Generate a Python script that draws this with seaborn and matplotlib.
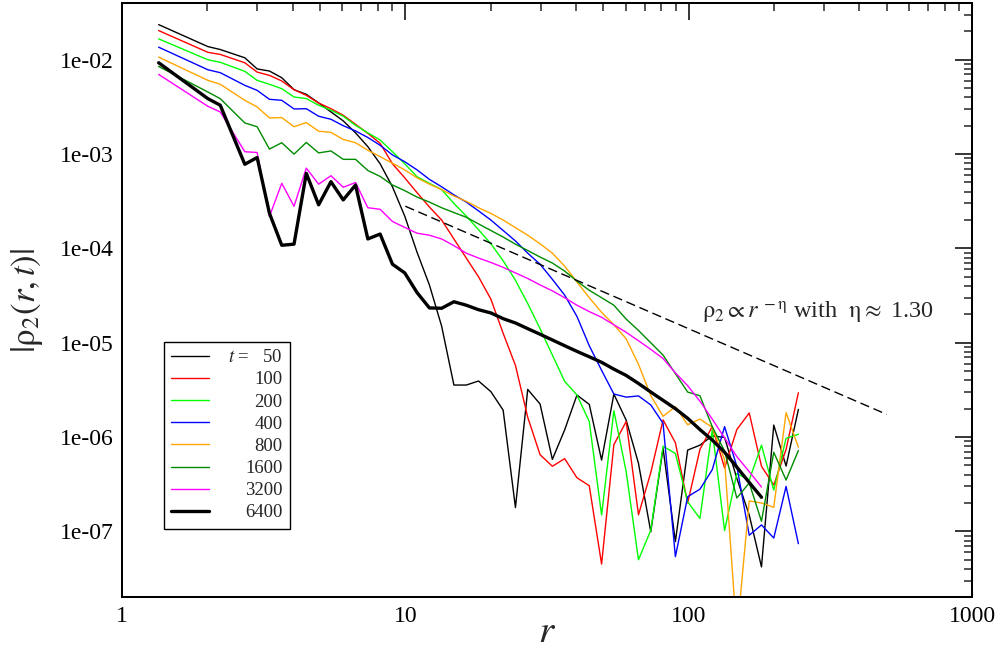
import numpy as np
import pandas as pd
import matplotlib
matplotlib.use("Agg")
import matplotlib.pyplot as plt
import seaborn as sns
from matplotlib.ticker import FixedLocator, FixedFormatter, LogLocator, NullFormatter

# ---------------- data ----------------
r = [1.347, 2.010, 2.222, 2.713, 2.999, 3.314, 3.663, 4.047, 4.472, 4.943,
     5.463, 6.037, 6.672, 7.373, 8.147, 9.006, 9.952, 11.00, 12.16, 13.43,
     14.84, 16.41, 18.13, 20.04, 22.14, 24.47, 27.04, 29.89, 33.03, 36.50,
     40.34, 44.58, 49.28, 54.45, 60.18, 66.51, 73.50, 81.22, 89.77, 99.19,
     109.6, 121.1, 133.9, 147.9, 163.6, 180.7, 199.7, 220.7, 243.9]

times = [50, 100, 200, 400, 800, 1600, 3200, 6400]

rho_t50 = [0.0236, 0.0138, 0.01285, 0.0105, 0.0080, 0.0076, 0.00645, 0.00482, 0.0043, 0.00349,
           0.0028, 0.00225, 0.00168, 0.0012, 0.00079, 0.00045, 2.2e-4, 9.1e-5, 4.1e-5, 1.5e-5,
           3.56e-6, 3.56e-6, 3.93e-6, 3.03e-6, 1.93e-6, 1.79e-7, 3.2e-6, 2.24e-6, 5.8e-7, 1.19e-6,
           2.79e-6, 2.22e-6, 5.7e-7, 2.85e-6, 1.51e-6, 5.26e-7, 9.9e-8, 7.6e-7, 7.8e-8, 7.28e-7,
           8.2e-7, 1.03e-6, 9.9e-7, 3.65e-7, 1.49e-7, 4.2e-8, 1.34e-6, 4.93e-7, 1.96e-6]
rho_t100 = [0.0204, 0.0120, 0.0114, 0.0093, 0.0074, 0.00684, 0.00596, 0.00482, 0.0042, 0.00348,
            0.00303, 0.00258, 0.00207, 0.00166, 0.0013, 7.9e-4, 5.6e-4, 3.9e-4, 2.75e-4, 2.0e-4,
            1.26e-4, 7.9e-5, 5.0e-5, 2.9e-5, 1.26e-5, 5.75e-6, 1.62e-6, 6.5e-7, 4.9e-7, 5.9e-7,
            3.7e-7, 3.05e-7, 4.5e-8, 8.3e-7, 1.46e-6, 1.5e-7, 4.2e-7, 1.52e-6, 8.7e-7, 2.0e-7,
            7.4e-7, 1.29e-6, 4.7e-7, 1.2e-6, 1.8e-6, 4.9e-7, 3.1e-7, 7.4e-7, 2.95e-6]
rho_t200 = [0.01667, 0.0100, 0.0094, 0.00754, 0.00605, 0.0055, 0.00494, 0.00403, 0.00388, 0.0033,
            0.00292, 0.00252, 0.00202, 0.00168, 0.00141, 0.00106, 7.9e-4, 5.75e-4, 4.9e-4, 4.2e-4,
            3.0e-4, 2.2e-4, 1.58e-4, 1.12e-4, 7.4e-5, 4.6e-5, 2.6e-5, 1.41e-5, 7.4e-6, 3.9e-6,
            2.79e-6, 1.46e-6, 1.49e-7, 1.9e-6, 4.3e-7, 5.0e-8, 1.03e-7, 8.0e-7, 6.7e-7, 2.06e-7,
            1.37e-7, 1.19e-6, 1.02e-7, 4.1e-7, 3.5e-7, 8.2e-7, 2.74e-7, 9.7e-7, 1.07e-6]
rho_t400 = [0.0136, 0.00784, 0.0073, 0.00536, 0.00474, 0.00381, 0.00372, 0.00301, 0.00303, 0.00252,
            0.00234, 0.0020, 0.00176, 0.0015, 0.00124, 9.8e-4, 8.3e-4, 6.8e-4, 5.4e-4, 4.5e-4,
            3.7e-4, 3.1e-4, 2.5e-4, 2.0e-4, 1.55e-4, 1.2e-4, 8.9e-5, 6.8e-5, 4.7e-5, 3.2e-5,
            1.9e-5, 9.3e-6, 5.1e-6, 2.86e-6, 2.65e-6, 2.73e-6, 2.19e-6, 1.4e-6, 5.4e-8, 2.33e-7,
            2.8e-7, 4.5e-7, 1.29e-6, 4.9e-7, 9.1e-8, 1.17e-7, 8.5e-8, 3.0e-7, 7.4e-8]
rho_t800 = [0.01067, 0.00605, 0.0055, 0.00372, 0.00316, 0.00242, 0.00244, 0.00195, 0.00216, 0.00175,
            0.0017, 0.00143, 0.00132, 0.0011, 9.4e-4, 8.0e-4, 6.8e-4, 5.6e-4, 4.8e-4, 4.2e-4,
            3.6e-4, 3.16e-4, 2.7e-4, 2.35e-4, 2.0e-4, 1.66e-4, 1.38e-4, 1.12e-4, 8.9e-5, 6.5e-5,
            4.4e-5, 3.0e-5, 2.1e-5, 1.55e-5, 1.1e-5, 5.9e-6, 2.75e-6, 1.66e-6, 2.1e-6, 1.35e-6,
            1.55e-6, 1.27e-6, 5.75e-7, 8e-9, 2.1e-7, 2.0e-7, 1.8e-7, 1.82e-6, 7.8e-7]
rho_t1600 = [0.0085, 0.00455, 0.00387, 0.00214, 0.00195, 0.00113, 0.00132, 0.0010, 0.00133, 0.00103,
             0.00108, 8.8e-4, 8.8e-4, 6.7e-4, 5.8e-4, 4.7e-4, 4.1e-4, 3.5e-4, 3.1e-4, 2.7e-4,
             2.4e-4, 2.14e-4, 1.82e-4, 1.55e-4, 1.32e-4, 1.11e-4, 9.5e-5, 8.1e-5, 7.0e-5, 5.75e-5,
             4.5e-5, 3.6e-5, 3.0e-5, 2.5e-5, 1.78e-5, 1.35e-5, 1.0e-5, 7.4e-6, 4.7e-6, 3.0e-6,
             2.74e-6, 1.29e-6, 7.1e-7, 2.26e-7, 3.26e-7, 1.28e-7, 6.9e-7, 3.5e-7, 7.2e-7]
rho_t3200 = [0.0070, 0.00321, 0.0028, 0.00106, 0.00104, 2.18e-4, 4.9e-4, 2.8e-4, 7.1e-4, 4.8e-4,
             5.9e-4, 4.45e-4, 5.0e-4, 2.7e-4, 2.6e-4, 1.93e-4, 1.67e-4, 1.45e-4, 1.38e-4, 1.26e-4,
             1.07e-4, 8.9e-5, 7.9e-5, 7.1e-5, 6.3e-5, 5.5e-5, 4.8e-5, 4.1e-5, 3.55e-5, 3.0e-5,
             2.5e-5, 2.14e-5, 1.86e-5, 1.55e-5, 1.29e-5, 1.05e-5, 8.5e-6, 6.8e-6, 4.8e-6, 3.5e-6,
             2.4e-6, 1.55e-6, 9.8e-7, 6.2e-7, 4.3e-7, 2.95e-7]
rho_t6400 = [0.0093, 0.00387, 0.0033, 7.8e-4, 9.2e-4, 2.36e-4, 1.08e-4, 1.11e-4, 6.25e-4, 2.9e-4,
             5.1e-4, 3.27e-4, 4.7e-4, 1.26e-4, 1.42e-4, 6.8e-5, 5.5e-5, 3.4e-5, 2.34e-5, 2.32e-5,
             2.72e-5, 2.5e-5, 2.24e-5, 2.07e-5, 1.8e-5, 1.62e-5, 1.41e-5, 1.23e-5, 1.07e-5, 9.3e-6,
             8.1e-6, 7.1e-6, 6.2e-6, 5.25e-6, 4.5e-6, 3.7e-6, 3.0e-6, 2.45e-6, 2.0e-6, 1.58e-6,
             1.2e-6, 9.3e-7, 6.9e-7, 4.8e-7, 3.3e-7, 2.3e-7]

fit_r = [10, 500]
fit_rho = [2.8e-4, 1.74e-6]
eta_text = "1.30"

x_ticks = [1, 10, 100, 1000]
x_ticklabels = ["1", "10", "100", "1000"]
y_ticks = [1e-7, 1e-6, 1e-5, 1e-4, 1e-3, 1e-2]
y_ticklabels = ["1e-07", "1e-06", "1e-05", "1e-04", "1e-03", "1e-02"]

# ---------------- style ----------------
sns.set_theme(style="white")
plt.rcParams["font.family"] = ["Liberation Serif", "DejaVu Serif"]
plt.rcParams["mathtext.fontset"] = "stix"
plt.rcParams["axes.linewidth"] = 1.45
plt.rcParams["axes.edgecolor"] = "black"

colors = ["#000000", "#ff0000", "#00ff00", "#0000ff", "#ffa500", "#008b00", "#ff00ff", "#000000"]
widths = [1.0, 1.0, 1.0, 1.0, 1.0, 1.0, 1.0, 2.4]
all_rho = [rho_t50, rho_t100, rho_t200, rho_t400, rho_t800, rho_t1600, rho_t3200, rho_t6400]

fig = plt.figure(figsize=(9.97, 6.53), dpi=100)
ax = fig.add_axes([122 / 997, (653 - 597.3) / 653, 850 / 997, 594.3 / 653])

handles = []
for t, rho, c, lw in zip(times, all_rho, colors, widths):
    df = pd.DataFrame({"r": r[:len(rho)], "rho": rho})
    sns.lineplot(data=df, x="r", y="rho", color=c, linewidth=lw, ax=ax,
                 estimator=None, sort=False, legend=False)
    handles.append(ax.get_lines()[-1])

df_fit = pd.DataFrame({"r": fit_r, "rho": fit_rho})
sns.lineplot(data=df_fit, x="r", y="rho", color="black", linewidth=1.0, ax=ax,
             estimator=None, sort=False, legend=False)
ax.get_lines()[-1].set_dashes((6.8, 3.4))

ax.set_xscale("log")
ax.set_yscale("log")
ax.set_xlim(1, 1000)
ax.set_ylim(2e-8, 4e-2)

ax.xaxis.set_major_locator(FixedLocator(x_ticks))
ax.xaxis.set_major_formatter(FixedFormatter(x_ticklabels))
ax.yaxis.set_major_locator(FixedLocator(y_ticks))
ax.yaxis.set_major_formatter(FixedFormatter(y_ticklabels))
ax.xaxis.set_minor_locator(LogLocator(base=10, subs=np.arange(2, 10), numticks=20))
ax.yaxis.set_minor_locator(LogLocator(base=10, subs=np.arange(2, 10), numticks=20))
ax.xaxis.set_minor_formatter(NullFormatter())
ax.yaxis.set_minor_formatter(NullFormatter())

ax.tick_params(which="major", direction="in", length=12.2, width=1.1, top=True, right=True,
               labelsize=17, pad=6, colors="black")
ax.tick_params(which="minor", direction="in", length=5.8, width=1.1, top=True, right=True)

ax.set_xlabel(r"$r$", fontsize=28, labelpad=-9)
ax.set_ylabel(r"$|\mathrm{\rho}_2(r,t)|$", fontsize=25, labelpad=11)

ax.text(111, 1.8e-5, r"$\mathrm{\rho}_2 \propto r^{\,-\mathrm{\eta}}$ with  $\mathrm{\eta} \approx$ " + eta_text,
        fontsize=17.5, ha="left", va="baseline")

labels = [r"$t$ = " + "\u2007" + str(times[0])] + [str(t) for t in times[1:]]
leg = ax.legend(handles, labels, loc="lower left", bbox_to_anchor=(0.0494, 0.115),
                borderaxespad=0, fontsize=13.5, frameon=True, fancybox=False, shadow=False,
                handlelength=2.0, handletextpad=1.0, borderpad=0.4, labelspacing=0.27)
leg.get_frame().set_edgecolor("black")
leg.get_frame().set_linewidth(1.0)
leg.get_frame().set_alpha(1.0)

# right-align legend labels
fig.canvas.draw()
renderer = fig.canvas.get_renderer()
texts = leg.get_texts()
wids = [tx.get_window_extent(renderer).width for tx in texts]
wmax = max(wids)
for tx, w in zip(texts, wids):
    tx.set_position((wmax - w, 0))

fig.savefig("out.png", dpi=100)
